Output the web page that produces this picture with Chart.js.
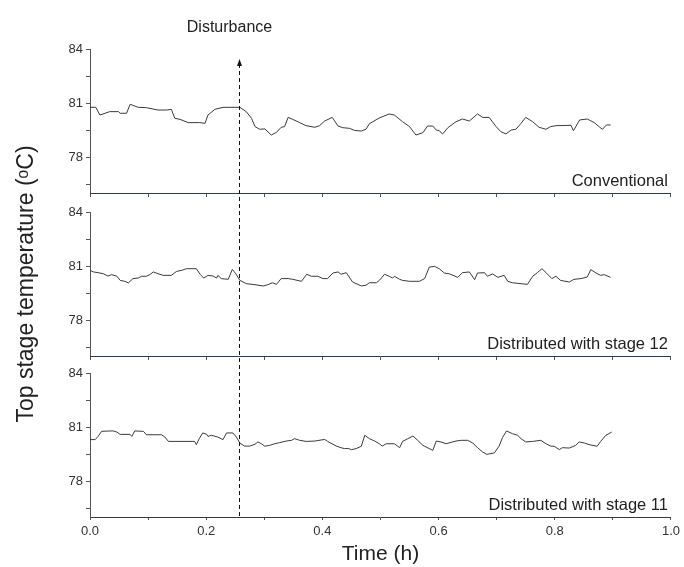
<!DOCTYPE html>
<html>
<head>
<meta charset="utf-8">
<script src="https://cdn.jsdelivr.net/npm/chart.js@4/dist/chart.umd.min.js"></script>
<style>
    html, body { margin: 0; padding: 0; background: #fff; }
    #wrap { width: 684px; height: 567px; }
</style>
</head>
<body>
<div id="wrap"><canvas id="myChart" width="684" height="567"></canvas></div>
<script>
// time (h) and top stage temperature (degC)
const CONV_T = [0.000,0.010,0.017,0.034,0.049,0.052,0.063,0.069,0.083,0.097,0.117,0.132,0.140,0.146,0.155,0.169,0.189,0.198,0.203,0.215,0.229,0.258,0.269,0.278,0.284,0.292,0.301,0.312,0.321,0.329,0.335,0.341,0.349,0.361,0.372,0.387,0.395,0.404,0.417,0.427,0.435,0.447,0.455,0.467,0.475,0.481,0.498,0.515,0.524,0.538,0.550,0.561,0.573,0.581,0.590,0.596,0.601,0.607,0.616,0.630,0.641,0.653,0.667,0.676,0.687,0.699,0.707,0.716,0.725,0.733,0.742,0.750,0.762,0.773,0.785,0.793,0.802,0.828,0.832,0.843,0.856,0.868,0.876,0.882,0.889,0.896];
const CONV_V = [80.76,80.76,80.33,80.52,80.52,80.43,80.43,80.93,80.76,80.74,80.61,80.61,80.65,80.15,80.09,79.91,79.91,79.87,80.33,80.65,80.76,80.76,80.52,80.15,79.69,79.54,79.56,79.22,79.37,79.65,79.69,80.20,80.09,79.91,79.74,79.65,79.74,80.00,80.20,79.72,79.63,79.59,79.48,79.44,79.54,79.85,80.17,80.39,80.33,79.96,79.69,79.22,79.35,79.72,79.72,79.50,79.46,79.28,79.63,79.96,80.11,80.00,80.39,80.20,80.20,79.69,79.41,79.28,79.50,79.54,79.87,80.20,79.96,79.65,79.54,79.69,79.74,79.76,79.46,80.06,80.11,79.91,79.69,79.54,79.78,79.78];

const S12_T = [0.000,0.006,0.014,0.023,0.031,0.037,0.046,0.052,0.060,0.066,0.074,0.083,0.089,0.097,0.103,0.109,0.117,0.126,0.140,0.149,0.158,0.166,0.183,0.190,0.196,0.203,0.212,0.218,0.220,0.226,0.238,0.245,0.251,0.258,0.269,0.284,0.298,0.306,0.314,0.321,0.329,0.341,0.349,0.364,0.373,0.381,0.392,0.401,0.409,0.418,0.427,0.432,0.441,0.452,0.467,0.475,0.481,0.493,0.498,0.507,0.515,0.521,0.524,0.533,0.538,0.550,0.567,0.576,0.584,0.593,0.601,0.610,0.619,0.633,0.641,0.653,0.662,0.667,0.679,0.684,0.693,0.702,0.713,0.719,0.727,0.753,0.762,0.770,0.778,0.785,0.795,0.802,0.810,0.825,0.833,0.845,0.856,0.862,0.871,0.879,0.885,0.896];
const S12_V = [80.76,80.67,80.63,80.57,80.44,80.52,80.44,80.20,80.15,80.06,80.30,80.33,80.43,80.43,80.52,80.67,80.57,80.48,80.48,80.70,80.76,80.85,80.85,80.52,80.33,80.48,80.44,80.33,80.48,80.30,80.26,80.81,80.57,80.20,80.02,79.96,79.89,79.96,80.07,79.98,80.30,80.30,80.26,80.15,80.54,80.43,80.43,80.30,80.30,80.61,80.67,80.54,80.63,80.11,79.89,79.93,80.07,80.07,80.20,80.54,80.43,80.33,80.43,80.26,80.20,80.15,80.15,80.30,80.94,80.98,80.85,80.61,80.56,80.37,80.63,80.67,80.24,80.61,80.63,80.43,80.56,80.37,80.48,80.15,80.07,79.98,80.43,80.63,80.85,80.63,80.30,80.43,80.20,80.11,80.26,80.30,80.39,80.80,80.61,80.48,80.52,80.37];

const S11_T = [0.000,0.009,0.014,0.020,0.034,0.040,0.046,0.052,0.069,0.072,0.077,0.092,0.097,0.123,0.129,0.135,0.180,0.183,0.188,0.194,0.201,0.203,0.209,0.220,0.229,0.235,0.246,0.252,0.258,0.266,0.275,0.284,0.289,0.295,0.301,0.309,0.318,0.326,0.338,0.347,0.352,0.361,0.372,0.387,0.404,0.409,0.424,0.432,0.438,0.444,0.450,0.458,0.467,0.473,0.481,0.490,0.498,0.503,0.510,0.524,0.533,0.538,0.547,0.556,0.564,0.573,0.590,0.596,0.604,0.613,0.630,0.639,0.650,0.659,0.667,0.676,0.683,0.696,0.704,0.710,0.717,0.727,0.736,0.742,0.750,0.762,0.776,0.785,0.793,0.799,0.808,0.813,0.825,0.836,0.842,0.851,0.859,0.873,0.879,0.888,0.898];
const S11_V = [80.30,80.30,80.48,80.76,80.78,80.78,80.72,80.59,80.59,80.48,80.78,80.76,80.57,80.57,80.44,80.20,80.20,80.02,80.35,80.67,80.59,80.48,80.54,80.44,80.30,80.67,80.67,80.44,80.11,79.94,79.94,80.04,80.17,80.07,79.93,79.98,80.07,80.13,80.22,80.26,80.35,80.26,80.20,80.22,80.31,80.20,79.94,79.85,79.80,79.81,79.74,79.80,79.93,80.54,80.35,80.22,80.07,79.94,80.07,80.07,79.85,80.20,80.35,80.50,80.26,79.98,79.70,80.22,80.17,80.07,80.22,80.26,80.26,80.11,79.85,79.61,79.48,79.56,79.93,80.41,80.78,80.63,80.54,80.35,80.17,80.20,80.26,80.07,79.94,79.93,79.74,79.85,79.83,79.98,80.17,80.11,80.02,79.93,80.20,80.54,80.72];

const PANEL_LABELS = ['Conventional', 'Distributed with stage 12', 'Distributed with stage 11'];
const DISTURBANCE_T = 0.257;
const DISTURBANCE_LABEL = 'Disturbance';

const Y_TICKS = [76.5, 78, 79.5, 81, 82.5, 84];
const Y_LABELS = [78, 81, 84];
const X_TICKS = [0, 0.1, 0.2, 0.3, 0.4, 0.5, 0.6, 0.7, 0.8, 0.9, 1.0];
const X_LABELS = ['0.0', '0.2', '0.4', '0.6', '0.8', '1.0'];

const FONT = 'Arial, "Liberation Sans", sans-serif';
const AXIS_GREY = '#555';
const AXIS_DARK = '#2f3a52';

function panelAxis(withTitle) {
    return {
        type: 'linear',
        position: 'left',
        stack: 'panels',
        stackWeight: 144,
        min: 76,
        max: 84,
        afterBuildTicks: s => { s.ticks = Y_TICKS.map(v => ({value: v})); },
        afterFit: s => { s.width = 90; },
        ticks: {
            autoSkip: false,
            color: '#333',
            padding: 3,
            font: {family: FONT, size: 13},
            callback: v => Y_LABELS.includes(v) ? String(v) : ''
        },
        grid: {drawOnChartArea: false, tickLength: 4, color: AXIS_GREY},
        border: {color: AXIS_GREY, width: 1},
        title: {
            display: withTitle,
            text: 'Top stage temperature (\u1D52C)',
            color: '#222',
            font: {family: FONT, size: 23},
            padding: {top: 13, bottom: 0}
        }
    };
}

// empty axis used only to leave a gap between two panels
function gap(weight) {
    return {
        type: 'linear',
        position: 'left',
        stack: 'panels',
        stackWeight: weight,
        ticks: {display: false},
        grid: {display: false},
        border: {display: false},
        afterFit: s => { s.width = 90; }
    };
}

// bottom line of an upper panel, with its small ticks
function panelFloor(yId) {
    return {
        type: 'linear',
        min: 0,
        max: 1,
        position: {[yId]: 76},
        afterBuildTicks: s => { s.ticks = X_TICKS.map(v => ({value: v})); },
        ticks: {display: false},
        grid: {drawOnChartArea: false, tickLength: 3, color: AXIS_GREY},
        border: {color: AXIS_DARK, width: 1}
    };
}

function series(times, values, yId) {
    let points = [];
    for (let i = 0; i < Math.min(times.length, values.length); i++) {
        points.push({x: times[i], y: values[i]});
    }
    return {
        data: points,
        xAxisID: 'x',
        yAxisID: yId,
        borderColor: '#3a3a3a',
        borderWidth: 1,
        pointRadius: 0,
        tension: 0,
        fill: false
    };
}

const annotations = {
    id: 'annotations',
    afterDatasetsDraw(chart) {
        const {ctx, chartArea, scales} = chart;
        const xp = Math.round(scales.x.getPixelForValue(DISTURBANCE_T)) + 0.5;
        const tip = scales.y1.top + 10;

        ctx.save();
        ctx.strokeStyle = '#111';
        ctx.lineWidth = 1;
        ctx.setLineDash([4, 3]);
        ctx.beginPath();
        ctx.moveTo(xp, tip + 5);
        ctx.lineTo(xp, chartArea.bottom);
        ctx.stroke();
        ctx.setLineDash([]);

        ctx.fillStyle = '#111';
        ctx.beginPath();
        ctx.moveTo(xp, tip);
        ctx.lineTo(xp - 2.5, tip + 7);
        ctx.lineTo(xp + 2.5, tip + 7);
        ctx.closePath();
        ctx.fill();

        ctx.fillStyle = '#222';
        ctx.font = '16px ' + FONT;
        ctx.textAlign = 'center';
        ctx.textBaseline = 'middle';
        ctx.fillText(DISTURBANCE_LABEL, xp - 10, 28);

        ctx.font = '16.5px ' + FONT;
        ctx.textAlign = 'right';
        ctx.textBaseline = 'alphabetic';
        ['y1', 'y2', 'y3'].forEach((id, i) => {
            ctx.fillText(PANEL_LABELS[i], chartArea.right - 3, scales[id].bottom - 7.5);
        });
        ctx.restore();
    }
};

const ctx = document.getElementById('myChart').getContext('2d');

new Chart(ctx, {
    type: 'line',
    data: {
        datasets: [
            series(CONV_T, CONV_V, 'y1'),
            series(S12_T, S12_V, 'y2'),
            series(S11_T, S11_V, 'y3')
        ]
    },
    options: {
        responsive: false,
        animation: false,
        devicePixelRatio: 1,
        layout: {padding: {top: 49, right: 12, bottom: 0, left: 0}},
        plugins: {legend: {display: false}, tooltip: {enabled: false}},
        scales: {
            x: {
                type: 'linear',
                position: 'bottom',
                min: 0,
                max: 1,
                afterBuildTicks: s => { s.ticks = X_TICKS.map(v => ({value: v})); },
                afterFit: s => { s.height = 50; },
                ticks: {
                    autoSkip: false,
                    maxRotation: 0,
                    padding: 4,
                    color: '#333',
                    font: {family: FONT, size: 13},
                    callback: (v, i) => i % 2 === 0 ? X_LABELS[i / 2] : ''
                },
                grid: {drawOnChartArea: false, tickLength: 3, color: AXIS_GREY},
                border: {color: AXIS_DARK, width: 1},
                title: {
                    display: true,
                    text: 'Time (h)',
                    color: '#222',
                    font: {family: FONT, size: 21},
                    padding: {top: 0, bottom: 0}
                }
            },
            // stacked bottom-to-top: last one defined ends up on top
            y3: panelAxis(false),
            g2: gap(17),
            y2: panelAxis(true),
            g1: gap(19),
            y1: panelAxis(false),
            x1: panelFloor('y1'),
            x2: panelFloor('y2')
        }
    },
    plugins: [annotations]
});
</script>
</body>
</html>
